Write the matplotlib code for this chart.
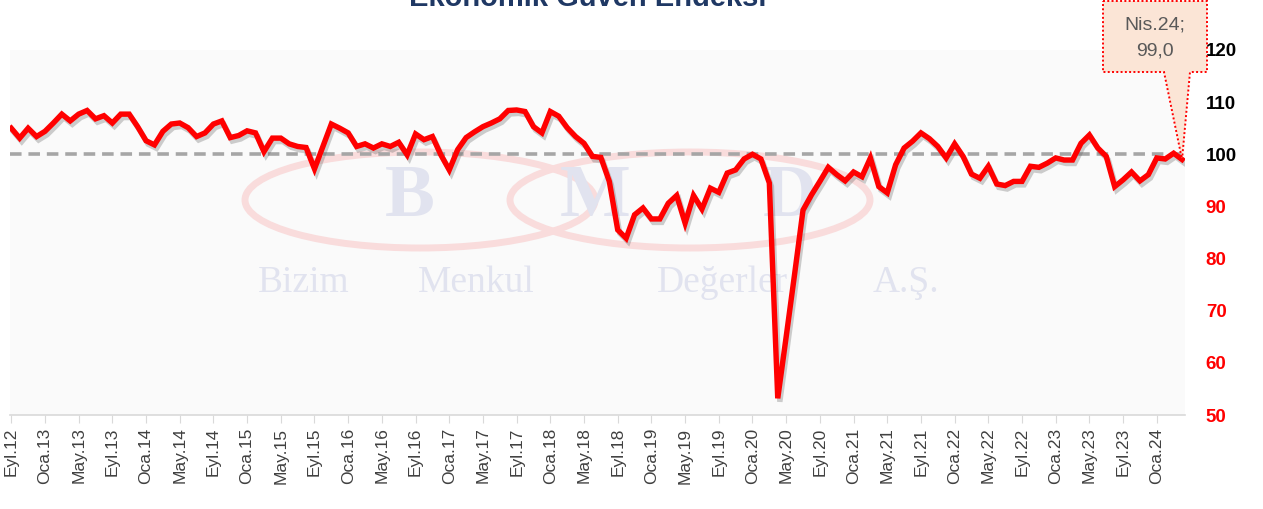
import matplotlib
matplotlib.use("Agg")
import matplotlib.pyplot as plt
import matplotlib.patheffects as pe
from matplotlib.patches import Ellipse, Polygon

# Ekonomik Güven Endeksi, Eyl.2012 - Nis.2024 (aylık)
values = [
    105.0, 103.1, 105.0, 103.4, 104.4, 106.0, 107.7, 106.4, 107.7, 108.4,
    106.8, 107.4, 106.0, 107.7, 107.7, 105.3, 102.6, 101.8, 104.4, 105.8,
    106.0, 105.1, 103.4, 104.1, 105.8, 106.4, 103.2, 103.6, 104.5, 104.1,
    100.5, 103.1, 103.1, 102.0, 101.5, 101.3, 97.2, 101.5, 105.8, 105.0,
    104.1, 101.5, 102.0, 101.2, 102.0, 101.5, 102.3, 99.9, 103.9, 102.8,
    103.4, 99.9, 97.0, 100.9, 103.2, 104.3, 105.3, 106.0, 106.8, 108.4,
    108.5, 108.2, 105.3, 104.1, 108.2, 107.3, 105.1, 103.4, 102.1, 99.6,
    99.4, 94.8, 85.5, 83.9, 88.4, 89.7, 87.6, 87.6, 90.6, 92.1,
    86.8, 92.1, 89.5, 93.5, 92.7, 96.4, 97.0, 99.1, 100.0, 99.1,
    94.5, 53.2, 65.0, 77.0, 89.3, 92.2, 94.8, 97.5, 96.1, 94.9,
    96.6, 95.7, 99.3, 93.8, 92.6, 98.0, 101.2, 102.5, 104.1, 103.0,
    101.5, 99.3, 102.0, 99.6, 96.2, 95.4, 97.7, 94.3, 94.0, 94.8,
    94.8, 97.7, 97.5, 98.3, 99.3, 98.9, 98.9, 102.1, 103.7, 101.2,
    99.6, 93.8, 95.1, 96.6, 94.9, 96.1, 99.3, 99.1, 100.2, 99.0,
]
month_names = ["Oca", "Şub", "Mar", "Nis", "May", "Haz",
               "Tem", "Ağu", "Eyl", "Eki", "Kas", "Ara"]
start_year, start_month = 2012, 9
threshold = 100
y_ticks = [50, 60, 70, 80, 90, 100, 110, 120]
title = "Ekonomik Güven Endeksi"
logo_letters = ["B", "M", "D"]
watermark_words = ["Bizim", "Menkul", "Değerler", "A.Ş."]

labels = []
for i in range(len(values)):
    m = start_month - 1 + i
    labels.append(f"{month_names[m % 12]}.{(start_year + m // 12) % 100:02d}")

W, H = 1263, 509
fig = plt.figure(figsize=(W / 100, H / 100), dpi=100)
fig.patch.set_facecolor("white")


def fx(px):
    return px / W


def fy(py):
    return 1 - py / H


ax = fig.add_axes([fx(10), fy(415), fx(1185) - fx(10), fy(50) - fy(415)])
ax.set_facecolor("#fafafa")

# watermark (logo + company name)
wm = "#e1e3ef"
for cx, w in [(420, 350), (690, 360)]:
    ax.add_patch(Ellipse((fx(cx), fy(200)), fx(w), 96 / H, transform=fig.transFigure,
                         fill=False, edgecolor="#f9dcdc", linewidth=5, zorder=0))
for ch, cx in zip(logo_letters, [410, 595, 790]):
    ax.text(fx(cx), fy(198), ch, transform=fig.transFigure, ha="center", va="center",
            fontsize=54, fontweight="bold", family="Liberation Serif", color=wm, zorder=0)
for word, cx in zip(watermark_words, [304, 476, 722, 906]):
    ax.text(fx(cx), fy(283), word, transform=fig.transFigure, ha="center", va="center",
            fontsize=27, family="Liberation Serif", color=wm, zorder=0)

x = list(range(len(values)))
ax.axhline(threshold, color="#a6a6a6", linewidth=2.6, dashes=(3.2, 1.9), zorder=2)
ax.plot(x, values, color="#ff0000", linewidth=3.9, solid_joinstyle="miter", zorder=3,
        path_effects=[pe.SimpleLineShadow(offset=(1.5, -2.5), shadow_color="#606060", alpha=0.3),
                      pe.Normal()])

ax.set_xlim(-0.15, len(values) - 1 + 0.35)
ax.set_ylim(50, 120)

tick_pos = x[::4]
ax.set_xticks(tick_pos)
ax.set_xticklabels([labels[i] for i in tick_pos], rotation=90, fontsize=12.5,
                   family="Liberation Sans", color="#404040")
ax.tick_params(axis="x", length=6, color="#d9d9d9", pad=3)

ax.yaxis.tick_right()
ax.set_yticks(y_ticks)
ax.set_yticklabels([str(v) for v in y_ticks], fontsize=13.5, fontweight="bold",
                   family="Liberation Sans")
for t, v in zip(ax.get_yticklabels(), y_ticks):
    t.set_color("black" if v >= 100 else "#ff0000")
ax.tick_params(axis="y", length=0, pad=15)

for s in ["left", "right", "top"]:
    ax.spines[s].set_visible(False)
ax.spines["bottom"].set_color("#d9d9d9")
ax.spines["bottom"].set_linewidth(1.2)

# title, cut at the top edge as in the source
fig.text(fx(588), fy(6), title, ha="center", va="baseline", fontsize=21,
         fontweight="bold", color="#1f3864", family="Liberation Sans")

# callout for the last point
tip = ax.transData.transform((len(values) - 1, values[-1]))
tipf = fig.transFigure.inverted().transform(tip)
pts = [(fx(1103), fy(1)), (fx(1207), fy(1)), (fx(1207), fy(72)), (fx(1190), fy(72)),
       (tipf[0], tipf[1]), (fx(1164), fy(72)), (fx(1103), fy(72))]
fig.add_artist(Polygon(pts, closed=True, transform=fig.transFigure, facecolor="#fbe5d6",
                       edgecolor="#ff0000", linewidth=1.4, linestyle=(0, (1, 1.2)),
                       zorder=10, clip_on=False))
last_val = f"{values[-1]:.1f}".replace(".", ",")
fig.text(fx(1155), fy(38), f"{labels[-1]};\n{last_val}", ha="center", va="center",
         fontsize=14, color="#595959", family="Liberation Sans", linespacing=1.75,
         zorder=11)

fig.savefig("out.png", dpi=100)
